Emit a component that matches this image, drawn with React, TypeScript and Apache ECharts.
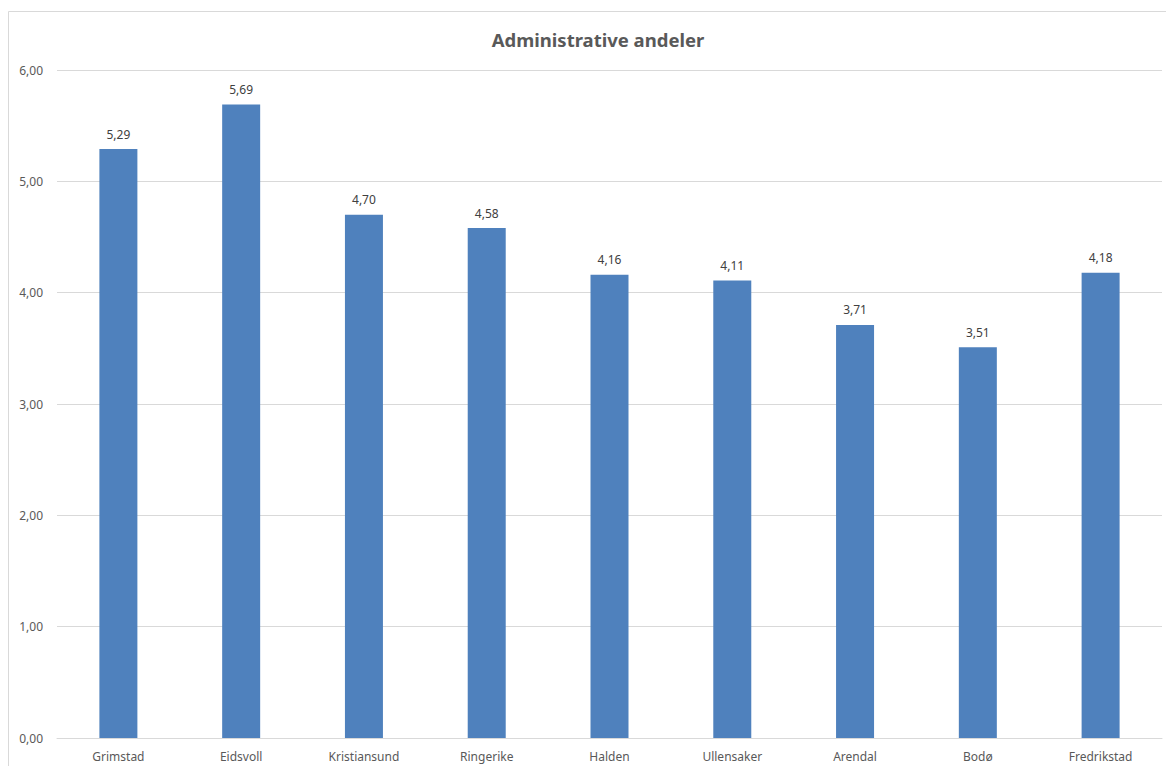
import React, { useEffect, useRef } from "react";
import * as echarts from "echarts";

const categories = ["Grimstad", "Eidsvoll", "Kristiansund", "Ringerike", "Halden", "Ullensaker", "Arendal", "Bodø", "Fredrikstad"];
const values = [5.29, 5.69, 4.70, 4.58, 4.16, 4.11, 3.71, 3.51, 4.18];
const title = "Administrative andeler";

const fmt = (v: number) => v.toFixed(2).replace(".", ",");

export default function App() {
  const ref = useRef<HTMLDivElement>(null);
  useEffect(() => {
    const chart = echarts.init(ref.current!, null, { renderer: "svg" });
    const font = "'Noto Sans', 'Open Sans', sans-serif";
    chart.setOption({
      animation: false,
      backgroundColor: "#ffffff",
      title: {
        text: title,
        left: 593,
        top: 25,
        textAlign: "center",
        textStyle: { fontFamily: font, fontSize: 18.5, fontWeight: "bold", color: "#595959" },
      },
      graphic: [
        {
          type: "rect",
          shape: { x: 8.5, y: 11.5, width: 1200, height: 800 },
          style: { fill: "none", stroke: "#d9d9d9", lineWidth: 1 },
          silent: true,
          z: -1,
        },
      ],
      grid: { left: 57, right: 4, top: 70, bottom: 28, containLabel: false },
      xAxis: {
        type: "category",
        data: categories,
        axisLine: { show: true, lineStyle: { color: "#d9d9d9", width: 1 } },
        axisTick: { show: false },
        axisLabel: { fontFamily: font, fontSize: 12, color: "#595959", margin: 12 },
      },
      yAxis: {
        type: "value",
        min: 0,
        max: 6,
        interval: 1,
        axisLine: { show: false },
        axisTick: { show: false },
        splitLine: { lineStyle: { color: "#d9d9d9", width: 1 } },
        axisLabel: { fontFamily: font, fontSize: 12, color: "#595959", margin: 14, formatter: (v: number) => fmt(v) },
      },
      series: [
        {
          type: "bar",
          data: values,
          barWidth: 38,
          itemStyle: { color: "#4f81bd" },
          label: {
            show: true,
            position: "top",
            distance: 9,
            fontFamily: font,
            fontSize: 12,
            color: "#404040",
            formatter: (p: any) => fmt(p.value),
          },
        },
      ],
    });
    return () => chart.dispose();
  }, []);
  return <div ref={ref} style={{ position: "fixed", left: 0, top: 0, width: 1166, height: 766 }} />;
}
